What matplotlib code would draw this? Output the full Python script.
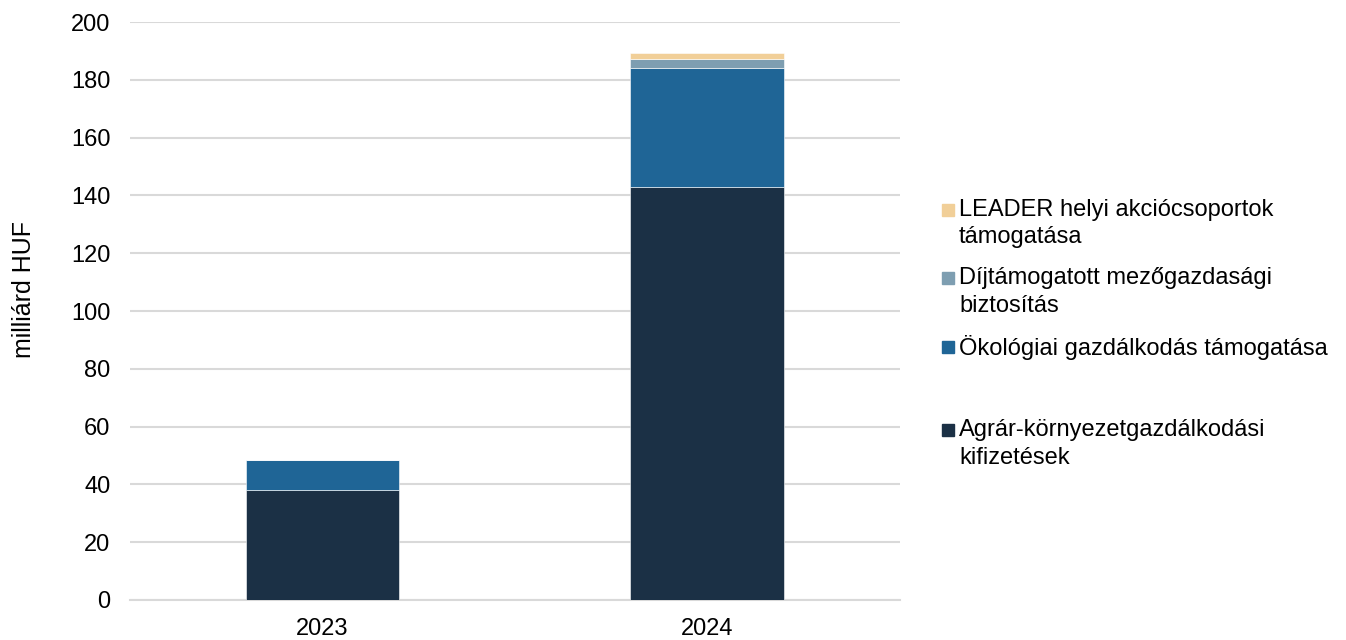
import matplotlib.pyplot as plt
from matplotlib.patches import Rectangle

plt.rcParams['font.family'] = ['Liberation Sans', 'DejaVu Sans']

years = ['2023', '2024']
series = [
    'Agrár-környezetgazdálkodási\nkifizetések',
    'Ökológiai gazdálkodás támogatása',
    'Díjtámogatott mezőgazdasági\nbiztosítás',
    'LEADER helyi akciócsoportok\ntámogatása',
]
agrar = [38.0, 143.0]
okologiai = [10.3, 41.1]
dijtamogatott = [0.0, 3.1]
leader = [0.0, 2.1]
values = [agrar, okologiai, dijtamogatott, leader]
colors = ['#1B3045', '#1F6596', '#7E9EB1', '#F1CF98']


def make_plot():
    fig = plt.figure(figsize=(13.46, 6.4), dpi=100)
    ax = fig.add_axes([0.0966, 0.0625, 0.5720, 0.9031])
    W, H = 1346, 640

    # stacked bars
    x = range(len(years))
    bottom = [0.0] * len(years)
    for vals, col in zip(values, colors):
        ax.bar(x, vals, width=0.4, bottom=bottom, color=col,
               edgecolor='#FFFFFF', linewidth=0.4, zorder=3)
        bottom = [b + v for b, v in zip(bottom, vals)]

    ax.set_xlim(-0.5, 1.5)
    ax.set_ylim(0, 200)
    ax.set_yticks(range(0, 201, 20))
    ax.set_xticks(list(x))
    ax.set_xticklabels(years)
    ax.tick_params(length=0, labelsize=17, colors='#000000')
    ax.tick_params(axis='y', pad=14)
    ax.tick_params(axis='x', pad=13)
    ax.grid(axis='y', color='#D9D9D9', linewidth=1.5, zorder=0)
    for side in ['top', 'right', 'left']:
        ax.spines[side].set_visible(False)
    ax.spines['bottom'].set_color('#D9D9D9')
    ax.spines['bottom'].set_linewidth(1.5)
    fig.text(24 / W, 1 - 289 / H, 'milliárd HUF', fontsize=18, rotation=90,
             ha='center', va='center')

    # legend drawn by hand, LEADER first (reverse stack order)
    first_line_y = [430, 347, 278, 210]
    for label, col, yy in zip(series, colors, first_line_y):
        fig.add_artist(Rectangle((942 / W, 1 - (yy + 6) / H), 12 / W, 12 / H,
                                 transform=fig.transFigure, color=col))
        for i, line in enumerate(label.split('\n')):
            fig.text(959 / W, 1 - (yy + 27.5 * i) / H, line, fontsize=17,
                     va='center')

    fig.savefig('out.png', dpi=100)


if __name__ == '__main__':
    make_plot()
